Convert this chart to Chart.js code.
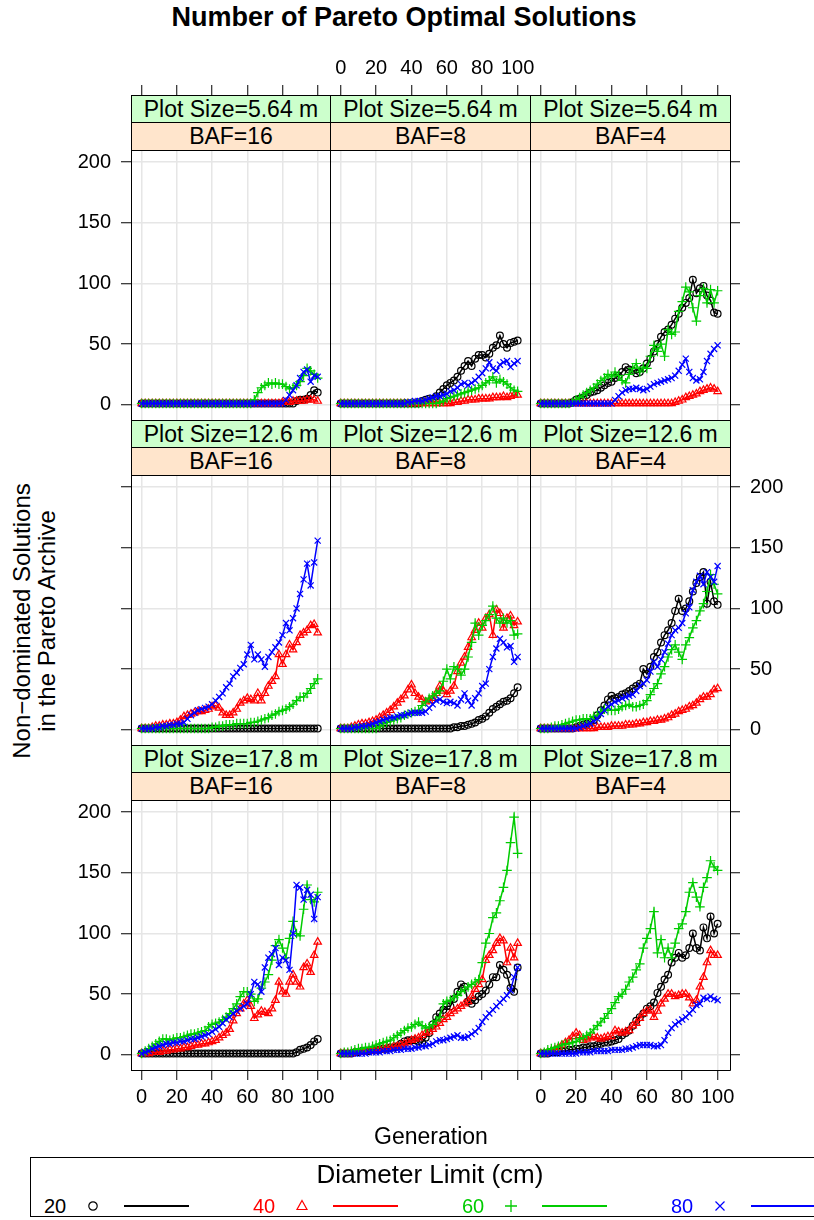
<!DOCTYPE html>
<html>
<head>
<meta charset="utf-8">
<script src="https://cdn.jsdelivr.net/npm/chart.js@4.4.0/dist/chart.umd.min.js"></script>
<style>
  body { margin: 0; width: 814px; height: 1220px; position: relative; overflow: hidden; background: #fff;
         font-family: 'Liberation Sans', Arial, Helvetica, sans-serif; color: #000; }
  canvas { position: absolute; }
  .strip { position: absolute; box-sizing: border-box; border: 1px solid #000; text-align: center;
           font-size: 23px; line-height: 26px; z-index: 5; white-space: nowrap; }
  .ps { background: #ccffcc; }
  .baf { background: #ffe5cc; }
  .txt { position: absolute; white-space: nowrap; }
</style>
</head>
<body>
<script>
// generations sampled every second step
const gen = [0,2,4,6,8,10,12,14,16,18, 20,22,24,26,28,30,32,34,36,38, 40,42,44,46,48,50,52,54,56,58,
             60,62,64,66,68,70,72,74,76,78, 80,82,84,86,88,90,92,94,96,98, 100];
const xTicks = [0, 20, 40, 60, 80, 100];
const yTicks = [0, 50, 100, 150, 200];
const plotSizes = ['5.64', '12.6', '17.8'];
const bafs = [16, 8, 4];
const diameters = [20, 40, 60, 80];

// Plot Size = 5.64 m
const d20_564_16 = [1,1,1,1,1,1,1,1,1,1, 1,1,1,1,1,1,1,1,1,1, 1,1,1,1,1,1,1,1,1,1, 1,1,1,1,1,1,1,1,1,1, 1,1,1,1,3,4,4,5,8,12, 10];
const d40_564_16 = [1,1,1,1,1,1,1,1,1,1, 1,1,1,1,1,1,1,1,1,1, 1,1,1,1,1,1,1,1,1,1, 1,1,1,1,1,1,1,1,1,1, 2,2,2,3,3,3,3,4,4,4, 3];
const d60_564_16 = [1,1,1,1,1,1,1,1,1,1, 1,1,1,1,1,1,1,1,1,1, 1,1,1,1,1,1,1,1,1,1, 1,1,4,10,14,16,18,17,18,17, 17,15,13,14,16,19,24,30,28,25, 22];
const d80_564_16 = [1,1,1,1,1,1,1,1,1,1, 1,1,1,1,1,1,1,1,1,1, 1,1,1,1,1,1,1,1,1,1, 1,1,1,1,1,1,1,1,1,1, 1,4,8,12,16,22,27,29,19,24, 23];

const d20_564_8 = [1,1,1,1,1,1,1,1,1,1, 1,1,1,1,1,1,1,1,1,1, 1,1,1,3,4,5,5,7,10,13, 16,18,20,23,28,32,36,32,38,41, 41,39,42,47,49,57,50,47,51,52, 53];
const d40_564_8 = [1,1,1,1,1,1,1,1,1,1, 1,1,1,1,1,1,1,1,1,1, 1,1,1,1,1,1,1,1,1,1, 1,1,2,2,3,3,4,4,4,5, 5,5,5,6,6,6,7,6,7,8, 8];
const d60_564_8 = [1,1,1,1,1,1,1,1,1,1, 1,1,1,1,1,1,1,1,1,1, 1,1,1,1,1,1,1,1,2,3, 5,6,7,8,9,10,11,12,13,14, 16,18,20,23,18,21,19,17,14,12, 11];
const d80_564_8 = [1,1,1,1,1,1,1,1,1,1, 1,1,1,1,1,1,1,1,1,2, 2,3,3,3,4,5,6,7,7,8, 9,11,12,14,17,18,16,18,20,23, 26,30,35,30,28,33,35,36,31,34, 36];

const d20_564_4 = [1,1,1,1,1,1,1,1,1,2, 4,5,6,8,10,11,12,14,16,18, 19,22,24,27,31,29,28,26,27,30, 34,38,44,50,56,60,62,66,71,75, 80,84,88,103,92,96,98,90,86,76, 75];
const d40_564_4 = [1,1,1,1,1,1,1,1,1,1, 1,1,1,1,1,1,1,1,1,1, 1,1,1,1,1,1,1,1,1,1, 1,1,1,1,1,1,1,1,2,3, 4,6,7,8,9,11,12,13,14,13, 11];
const d60_564_4 = [1,1,1,1,1,1,1,1,1,2, 4,6,8,10,12,14,17,20,22,25, 23,27,24,20,18,25,30,34,27,31, 30,40,49,44,50,40,62,58,60,77, 85,97,93,80,69,90,96,84,95,84, 94];
const d80_564_4 = [1,1,1,1,1,1,1,1,1,1, 1,1,1,1,1,1,1,1,1,1, 1,4,7,10,12,13,13,14,13,12, 13,15,17,18,19,20,21,22,24,28, 33,38,27,22,20,21,27,36,42,46, 49];

// Plot Size = 12.6 m
const d20_126_16 = [1,1,1,1,1,1,1,1,1,1, 1,1,1,1,1,1,1,1,1,1, 1,1,1,1,1,1,1,1,1,1, 1,1,1,1,1,1,1,1,1,1, 1,1,1,1,1,1,1,1,1,1, 1];
const d40_126_16 = [1,1,1,2,3,3,4,4,5,5, 6,8,11,12,13,14,15,15,16,17, 19,20,18,14,12,12,14,17,22,24, 26,25,24,30,24,30,36,40,44,62, 54,62,70,66,72,78,80,82,86,87, 80];
const d60_126_16 = [1,1,1,1,1,1,1,1,1,1, 1,1,1,1,1,1,1,1,1,1, 2,2,3,3,4,4,4,5,5,5, 5,6,6,7,8,9,10,12,13,15, 16,17,19,21,24,27,27,30,34,38, 42];
const d80_126_16 = [1,1,1,1,2,2,3,3,4,4, 5,5,6,9,12,14,16,17,18,19, 21,24,27,30,35,38,44,47,51,54, 62,70,58,62,58,52,60,64,68,72, 78,88,82,92,100,112,124,137,119,138, 156];

const d20_126_8 = [1,1,1,1,1,1,1,1,1,1, 1,1,1,1,1,1,1,1,1,1, 1,1,1,1,1,1,1,1,1,1, 1,1,2,2,3,3,4,5,6,8, 9,11,14,17,19,21,23,24,26,30, 35];
const d40_126_8 = [1,1,1,2,3,4,5,5,6,7, 8,10,12,14,16,19,22,25,28,33, 37,30,27,25,23,24,26,30,36,32, 29,32,36,48,55,60,68,76,82,88, 84,92,95,78,99,96,84,92,94,86, 89];
const d60_126_8 = [1,1,1,1,1,1,1,1,1,1, 1,3,5,6,7,8,9,10,12,13, 14,15,16,20,23,26,28,30,32,40, 50,42,52,50,45,50,60,72,88,78, 86,90,95,102,92,88,92,88,90,78, 79];
const d80_126_8 = [1,1,1,1,2,2,3,3,4,5, 6,7,8,9,10,10,11,12,12,13, 14,14,14,14,15,18,21,24,25,23, 22,23,22,20,25,30,24,20,26,30, 36,38,50,60,67,75,72,68,69,56, 60];

const d20_126_4 = [1,1,1,1,1,1,1,1,1,1, 2,3,4,5,6,8,12,16,20,25, 28,26,27,29,30,32,34,36,38,50, 46,52,60,64,72,78,82,88,98,108, 98,100,106,114,121,126,130,104,122,106, 103];
const d40_126_4 = [1,1,1,1,1,1,1,1,1,1, 1,1,1,1,1,1,2,2,2,2, 3,3,3,3,4,4,4,5,5,6, 6,7,7,8,8,9,10,12,13,15, 16,17,19,20,22,25,27,27,29,33, 34];
const d60_126_4 = [1,1,1,2,3,3,4,5,6,7, 8,8,9,9,9,11,12,15,17,16, 16,16,17,19,20,21,19,19,20,21, 24,29,34,38,46,52,60,66,70,64, 58,70,76,84,90,98,104,114,128,120, 112];
const d80_126_4 = [1,1,1,1,1,1,1,1,1,1, 1,2,3,4,5,7,9,13,16,19, 21,23,24,26,27,28,29,32,36,38, 41,48,56,52,58,64,71,78,82,84, 88,96,101,115,122,127,120,130,126,122, 135];

// Plot Size = 17.8 m
const d20_178_16 = [1,1,1,1,1,1,1,1,1,1, 1,1,1,1,1,1,1,1,1,1, 1,1,1,1,1,1,1,1,1,1, 1,1,1,1,1,1,1,1,1,1, 1,1,1,1,2,4,5,6,8,11, 13];
const d40_178_16 = [1,1,1,2,2,2,3,3,4,4, 5,5,6,6,7,8,8,9,9,10, 11,12,14,16,18,21,28,34,38,42, 45,40,30,33,36,35,34,38,45,60, 52,50,60,66,60,56,72,75,68,82, 93];
const d60_178_16 = [1,3,5,7,9,11,13,13,12,13, 14,14,15,16,17,17,18,19,20,23, 25,26,27,29,31,34,38,42,48,52, 52,50,44,46,55,60,66,78,90,95, 88,80,96,110,100,98,120,140,128,126, 134];
const d80_178_16 = [1,2,3,5,6,7,8,9,9,10, 10,11,11,12,13,13,14,15,16,17, 19,21,23,26,29,31,34,36,38,40, 42,50,60,58,52,72,80,83,88,74, 80,78,70,100,140,138,128,136,132,112, 130];

const d20_178_8 = [1,1,1,1,2,2,3,3,3,4, 4,4,5,5,6,6,7,9,11,12, 12,12,11,10,14,18,25,31,34,37, 40,40,46,52,58,56,44,42,45,48, 50,53,58,64,64,74,70,66,55,52, 72];
const d40_178_8 = [1,1,1,1,2,2,2,3,3,3, 4,4,5,6,6,7,7,8,9,10, 12,13,14,16,18,19,21,23,26,29, 31,34,36,38,40,42,44,48,54,58, 62,78,82,86,92,96,94,76,88,80, 92];
const d60_178_8 = [1,2,2,3,4,5,5,6,6,7, 8,9,10,11,12,14,16,18,20,22, 23,25,27,24,22,23,25,28,31,42, 44,45,47,49,52,54,56,58,60,62, 76,92,100,113,117,127,138,152,175,196, 166];
const d80_178_8 = [1,1,1,1,1,1,1,1,2,2, 2,2,3,3,3,4,4,4,5,5, 5,6,6,7,7,8,9,11,12,12, 13,14,15,16,14,14,15,17,19,22, 27,31,34,37,40,43,46,49,53,64, 72];

const d20_178_4 = [1,1,1,2,2,2,3,3,4,4, 5,5,6,6,7,7,8,9,10,10, 11,12,13,16,18,20,24,28,31,34, 38,40,43,51,56,62,66,76,80,84, 80,82,88,100,88,86,105,96,114,100, 108];
const d40_178_4 = [1,1,2,3,4,6,8,10,12,15, 18,16,12,13,14,15,14,13,14,15, 15,20,19,18,19,20,24,26,30,34, 36,37,31,36,42,46,50,50,48,49, 50,50,47,42,45,56,64,76,86,82, 82];
const d60_178_4 = [1,2,4,5,6,7,8,9,9,10, 11,13,14,16,18,21,24,27,30,34, 38,43,48,50,54,60,64,70,75,88, 96,104,118,84,95,80,88,80,92,104, 108,118,134,142,130,122,138,146,160,155, 152];
const d80_178_4 = [1,1,1,1,1,1,1,1,1,1, 1,2,2,2,2,3,3,3,3,3, 4,4,4,4,5,5,6,7,8,8, 8,8,7,7,8,12,18,22,25,27, 29,31,34,37,41,42,47,46,48,46, 45];

// rows = plot size, columns = BAF; each cell holds the 20/40/60/80 cm series
const panels = [
  [[d20_564_16, d40_564_16, d60_564_16, d80_564_16],
   [d20_564_8,  d40_564_8,  d60_564_8,  d80_564_8],
   [d20_564_4,  d40_564_4,  d60_564_4,  d80_564_4]],
  [[d20_126_16, d40_126_16, d60_126_16, d80_126_16],
   [d20_126_8,  d40_126_8,  d60_126_8,  d80_126_8],
   [d20_126_4,  d40_126_4,  d60_126_4,  d80_126_4]],
  [[d20_178_16, d40_178_16, d60_178_16, d80_178_16],
   [d20_178_8,  d40_178_8,  d60_178_8,  d80_178_8],
   [d20_178_4,  d40_178_4,  d60_178_4,  d80_178_4]]
];

const COLORS = ['#000000', '#ff0000', '#00cc00', '#0000ff'];
const MARKERS = ['circle', 'triangle', 'cross', 'crossRot'];
const RADII = [3.4, 4.3, 4.8, 4.3];
const GRID = '#e6e6e6';
const FONT = 'Liberation Sans';

// layout (pixels)
const M = 60, STRIP_H = 55, PANEL_H = 270;
const ROW_TOP = [95, 420, 745];
const COL_LEFT = [131, 330, 530];
const COL_W = [199, 200, 200];
const X_MIN = -6.06, X_MAX = 107.0;
const Y_MIN = -12.6, Y_TOP = 210.1;
// the chart area also spans the strips, so extend the y range over them
const Y_MAX = Y_TOP + STRIP_H * (Y_TOP - Y_MIN) / PANEL_H;

Chart.defaults.font.family = FONT;

function xAxis(pos, onArea, marks, labels) {
  return {
    type: 'linear', position: pos, min: X_MIN, max: X_MAX,
    afterBuildTicks: s => { s.ticks = xTicks.map(v => ({ value: v })); },
    afterFit: s => { s.height = M; },
    grid: { drawOnChartArea: onArea, color: GRID, lineWidth: 1.5,
            drawTicks: marks, tickLength: 10, tickColor: '#000', tickWidth: 1 },
    border: { display: true, color: '#000', width: 1 },
    ticks: { display: labels, color: '#000', font: { size: 20 }, padding: 5,
             maxRotation: 0, autoSkip: false }
  };
}

function yAxis(pos, onArea, marks, labels) {
  return {
    type: 'linear', position: pos, min: Y_MIN, max: Y_MAX,
    afterBuildTicks: s => { s.ticks = yTicks.map(v => ({ value: v })); },
    afterFit: s => { s.width = M; },
    grid: { drawOnChartArea: onArea, color: GRID, lineWidth: 1.5,
            drawTicks: marks, tickLength: 10, tickColor: '#000', tickWidth: 1 },
    border: { display: true, color: '#000', width: 1 },
    ticks: { display: labels, color: '#000', font: { size: 20 }, padding: 10, autoSkip: false }
  };
}

function makePanel(r, c) {
  const cv = document.createElement('canvas');
  cv.width = COL_W[c] + 2 * M;
  cv.height = STRIP_H + PANEL_H + 2 * M;
  cv.style.left = (COL_LEFT[c] - M) + 'px';
  cv.style.top = (ROW_TOP[r] - M) + 'px';
  document.body.appendChild(cv);

  const series = panels[r][c];
  new Chart(cv, {
    type: 'line',
    data: {
      datasets: diameters.map((d, i) => ({
        label: String(d),
        data: gen.map((g, k) => ({ x: g, y: series[i][k] })),
        borderColor: COLORS[i],
        borderWidth: 1.5,
        pointStyle: MARKERS[i],
        pointRadius: RADII[i],
        pointBorderColor: COLORS[i],
        pointBackgroundColor: 'rgba(0,0,0,0)',
        pointBorderWidth: 1.2,
        tension: 0,
        order: 4 - i
      }))
    },
    options: {
      responsive: false,
      animation: false,
      events: [],
      layout: { padding: 0 },
      plugins: { legend: { display: false }, tooltip: { enabled: false } },
      scales: {
        x:  xAxis('bottom', true,  r === 2, r === 2 && c !== 1),
        x2: xAxis('top',    false, r === 0, r === 0 && c === 1),
        y:  yAxis('left',   true,  c === 0, c === 0 && r !== 1),
        y2: yAxis('right',  false, c === 2, c === 2 && r === 1)
      }
    }
  });

  const s1 = document.createElement('div');
  s1.className = 'strip ps';
  s1.style.cssText = `left:${COL_LEFT[c]}px;top:${ROW_TOP[r]}px;width:${COL_W[c] + 1}px;height:28px;`;
  s1.textContent = 'Plot Size=' + plotSizes[r] + ' m';
  document.body.appendChild(s1);

  const s2 = document.createElement('div');
  s2.className = 'strip baf';
  s2.style.cssText = `left:${COL_LEFT[c]}px;top:${ROW_TOP[r] + 27}px;width:${COL_W[c] + 1}px;height:29px;`;
  s2.textContent = 'BAF=' + bafs[c];
  document.body.appendChild(s2);
}

for (let r = 0; r < 3; r++) for (let c = 0; c < 3; c++) makePanel(r, c);

function addText(txt, css) {
  const el = document.createElement('div');
  el.className = 'txt';
  el.style.cssText = css;
  el.textContent = txt;
  document.body.appendChild(el);
  return el;
}

addText('Number of Pareto Optimal Solutions',
  'left:0;width:808px;top:2px;text-align:center;font-weight:bold;font-size:27px;');
addText('Generation', 'left:231px;width:400px;top:1123px;text-align:center;font-size:23px;');
addText('Non\u2212dominated Solutions',
  'left:-178px;width:400px;top:607px;text-align:center;font-size:24px;transform:rotate(-90deg);');
addText('in the Pareto Archive',
  'left:-153px;width:400px;top:607px;text-align:center;font-size:24px;transform:rotate(-90deg);');

// legend
const box = document.createElement('div');
box.style.cssText = 'position:absolute;left:30px;top:1157px;width:800px;height:60px;border:1px solid #000;box-sizing:border-box;';
document.body.appendChild(box);
addText('Diameter Limit (cm)', 'left:230px;width:400px;top:1159px;text-align:center;font-size:26px;');

const SYMBOLS = [
  c => `<circle cx="8" cy="8" r="4.2" fill="none" stroke="${c}" stroke-width="1.2"/>`,
  c => `<polygon points="8,2.5 13,11.5 3,11.5" fill="none" stroke="${c}" stroke-width="1.2"/>`,
  c => `<path d="M8 2 V14 M2 8 H14" stroke="${c}" stroke-width="1.3"/>`,
  c => `<path d="M3.5 3.5 L12.5 12.5 M12.5 3.5 L3.5 12.5" stroke="${c}" stroke-width="1.2"/>`
];
diameters.forEach((d, i) => {
  const x0 = 44 + i * 209;
  addText(String(d), `left:${x0}px;top:1195px;font-size:20px;color:${COLORS[i]};`);
  const sym = document.createElement('div');
  sym.style.cssText = `position:absolute;left:${x0 + 41}px;top:1198px;width:16px;height:16px;`;
  sym.innerHTML = `<svg width="16" height="16" viewBox="0 0 16 16">${SYMBOLS[i](COLORS[i])}</svg>`;
  document.body.appendChild(sym);
  const ln = document.createElement('div');
  ln.style.cssText = `position:absolute;left:${x0 + 80}px;top:1205px;width:65px;height:2px;background:${COLORS[i]};`;
  document.body.appendChild(ln);
});
</script>
</body>
</html>
